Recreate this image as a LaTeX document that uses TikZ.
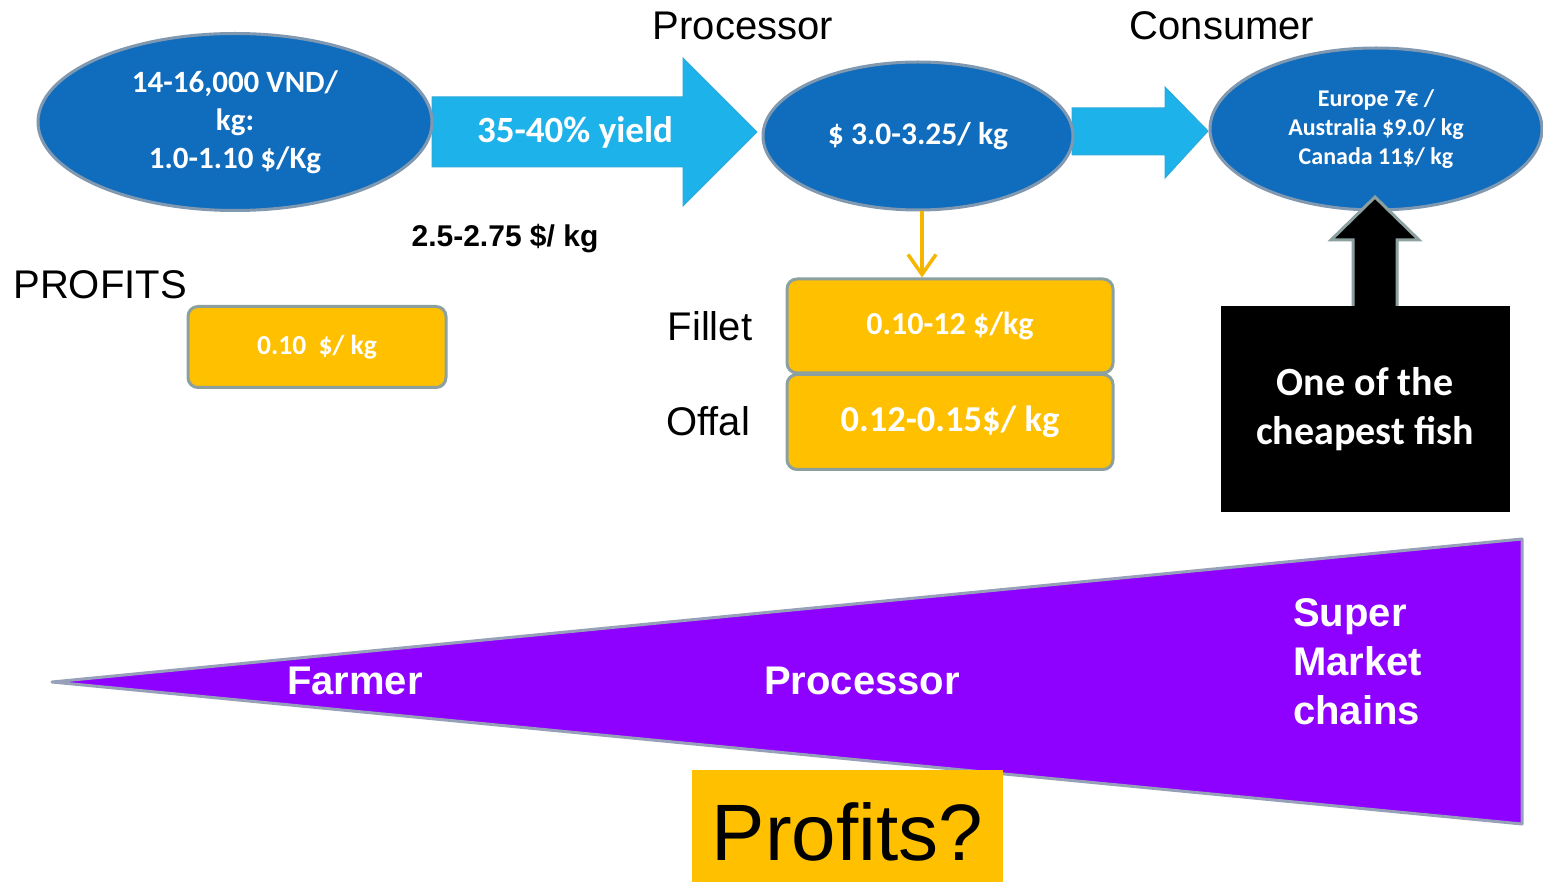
\documentclass[tikz,border=0pt]{standalone}
\usepackage{fontspec}
\setmainfont{Liberation Sans}
\newfontfamily\carl{Carlito}
\usetikzlibrary{shapes.geometric,arrows.meta,calc}

\definecolor{ovalblue}{RGB}{16,108,189}
\definecolor{edgegray}{RGB}{128,152,176}
\definecolor{skyblue}{RGB}{30,178,234}
\definecolor{amber}{RGB}{255,192,0}
\definecolor{amberline}{RGB}{245,182,0}
\definecolor{boxgray}{RGB}{140,160,160}
\definecolor{wedgeviolet}{RGB}{142,0,255}
\definecolor{wedgeedge}{RGB}{150,160,185}

\tikzset{
  oval/.style={ellipse, draw=edgegray, line width=3pt, fill=ovalblue,
    text=white, align=center, inner sep=0pt},
  pricebox/.style={rectangle, rounded corners=10pt, draw=boxgray, line width=3pt,
    fill=amber, text=white, inner sep=0pt, font=\carl\bfseries},
  flow/.style={fill=skyblue, draw=skyblue!85!gray, line width=1pt, line join=miter},
  plaintxt/.style={text=black, inner sep=0pt, font=\fontsize{40}{46}\selectfont},
  wedgetxt/.style={text=white, inner sep=0pt, font=\fontsize{40}{49}\selectfont\bfseries},
}

\begin{document}
\begin{tikzpicture}[x=1pt,y=-1pt]
\useasboundingbox (0,0) rectangle (1543,882);
\fill[white] (0,0) rectangle (1543,882);

% block arrows between the ovals
\path[flow] (432,97) -- (683,97) -- (683,58) -- (757,132) -- (683,206)
  -- (683,167) -- (432,167) -- cycle;
\path[flow] (1072,108) -- (1165,108) -- (1165,87) -- (1208,131) -- (1165,178)
  -- (1165,155) -- (1072,155) -- cycle;
\node[text=white, inner sep=0pt, font=\carl\bfseries\fontsize{37}{44}\selectfont]
  (yield) at (575,132) {35-40\% yield};

% price ovals
\node[oval, minimum width=394pt, minimum height=177pt,
  font=\carl\bfseries\fontsize{31}{38}\selectfont] (farm) at (235,122)
  {14-16,000 VND/\\kg:\\1.0-1.10 \$/Kg};
\node[oval, minimum width=310pt, minimum height=148pt,
  font=\carl\bfseries\fontsize{31.5}{38}\selectfont] (proc) at (918,136)
  {\$ 3.0-3.25/ kg};
\node[oval, minimum width=332pt, minimum height=162pt,
  font=\carl\bfseries\fontsize{24}{29}\selectfont] (cons) at (1376,129)
  {Europe 7€ /\\Australia \$9.0/ kg\\Canada 11\$/ kg};

% stage headings
\node[plaintxt] (hproc) at (743,26) {Processor};
\node[plaintxt] (hcons) at (1222,26) {Consumer};

% farm-gate margin
\node[text=black, inner sep=0pt, font=\fontsize{30}{36}\selectfont\bfseries]
  (gate) at (505,239) {2.5-2.75 \$/ kg};
\node[plaintxt] (profits) at (100,285) {PROFITS};
\node[pricebox, minimum width=258pt, minimum height=81pt,
  font=\carl\bfseries\fontsize{27.5}{32}\selectfont] (farmprofit) at (317,347)
  {0.10\ \ \$/ kg};

% processor products
\node[pricebox, minimum width=326pt, minimum height=94pt,
  font=\carl\bfseries\fontsize{32}{38}\selectfont] (fillet) at (950,326)
  {0.10-12 \$/kg};
\node[pricebox, minimum width=326pt, minimum height=95pt,
  font=\carl\bfseries\fontsize{36.5}{42}\selectfont] (offal) at (950,422)
  {0.12-0.15\$/ kg};
\node[plaintxt] (lfillet) at (710,326) {Fillet};
\node[plaintxt] (loffal) at (708,421) {Offal};
\draw[amberline, line width=3.5pt, -{Straight Barb[length=20pt,width=28pt]}]
  ($(proc.south)+(4,0)$) -- ($(proc.south |- fillet.north)+(4,0)$);

% consumer note
\node[fill=black, minimum width=289pt, minimum height=206pt, inner sep=0pt,
  text=white, align=center, font=\carl\bfseries\fontsize{40}{49}\selectfont]
  (cheap) at (1365,409) {One of the\\cheapest fish};
\path[fill=black, draw=boxgray, line width=3pt]
  (1353,306) -- (1353,240) -- (1331,240) -- (1375,197) -- (1419,240)
  -- (1397,240) -- (1397,306);

% value wedge
\path[fill=wedgeviolet, draw=wedgeedge, line width=3pt, line join=round]
  (52,682) -- (1522,539) -- (1522,824) -- cycle;
\node[wedgetxt] (wfarm) at (355,681) {Farmer};
\node[wedgetxt] (wproc) at (862,681) {Processor};
\node[wedgetxt, align=left, anchor=west] (wsuper) at (1293,662)
  {Super\\Market\\chains};

\node[fill=amber, minimum width=311pt, minimum height=125pt, inner sep=0pt,
  text=black, font=\fontsize{80}{90}\selectfont] (question) at (847.5,832)
  {Profits?};
\end{tikzpicture}
\end{document}
